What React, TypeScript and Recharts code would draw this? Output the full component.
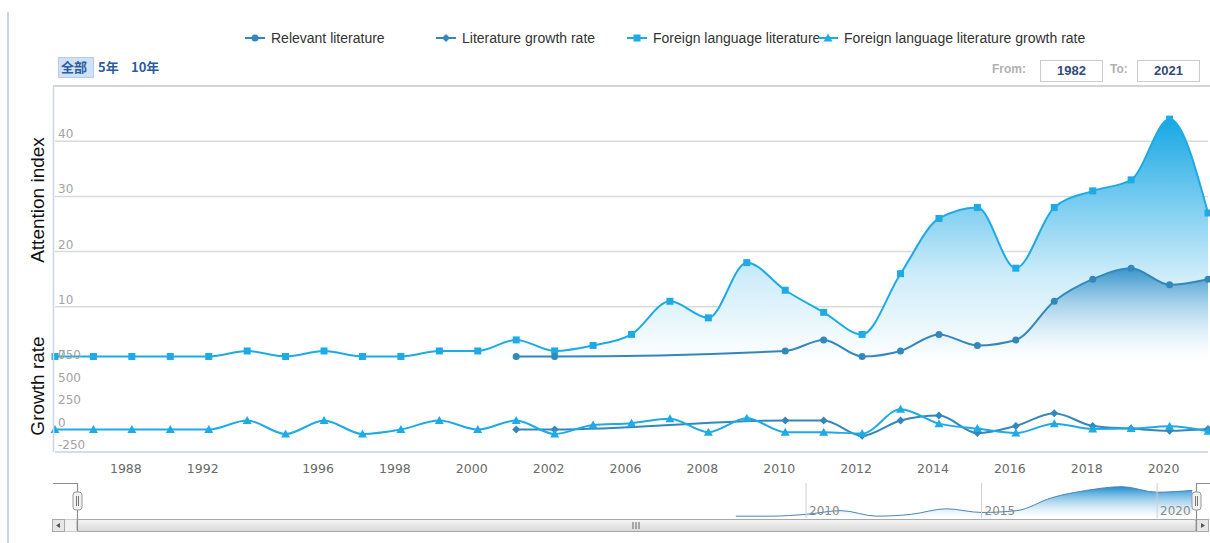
import { ComposedChart, AreaChart, Area, Line, XAxis, YAxis, CartesianGrid, ReferenceLine } from "recharts";

// years that have data (ordinal axis, some years are skipped)
const years = [1982, 1987, 1988, 1991, 1992, 1993, 1995, 1996, 1997, 1998, 1999, 2000, 2001, 2002, 2005,
  2006, 2007, 2008, 2009, 2010, 2011, 2012, 2013, 2014, 2015, 2016, 2017, 2018, 2019, 2020, 2021];

const relevantLit = [null, null, null, null, null, null, null, null, null, null, null, null, 1, 1,
  null, null, null, null, null, 2, 4, 1, 2, 5, 3, 4, 11, 15, 17, 14, 15];
const foreignLit = [1, 1, 1, 1, 1, 2, 1, 2, 1, 1, 2, 2, 4, 2, 3, 5, 11, 8, 18, 13, 9, 5, 16, 26, 28, 17, 28, 31, 33, 44, 27];
const litGrowth = [null, null, null, null, null, null, null, null, null, null, null, null, 0, 0,
  null, null, null, null, null, 100, 100, -70, 100, 155, -40, 40, 180, 40, 10, -15, 5];
const foreignGrowth = [0, 0, 0, 0, 0, 100, -50, 100, -50, 0, 100, 0, 100, -50, 50, 70, 120, -30, 125, -30,
  -30, -45, 225, 65, 10, -40, 65, 5, 10, 35, -20];

const xLabelYears = [1988, 1992, 1996, 1998, 2000, 2002, 2006, 2008, 2010, 2012, 2014, 2016, 2018, 2020];
const upperTicks = [0, 10, 20, 30, 40, 50];
const lowerTicks = [-250, 0, 250, 500, 750];

const seriesNames = ["Relevant literature", "Literature growth rate", "Foreign language literature", "Foreign language literature growth rate"];

// navigator
const navYears = [2008, 2009, 2010, 2011, 2012, 2013, 2014, 2015, 2016, 2017, 2018, 2019, 2020, 2021];
const navValues = [1, 1, 2, 4, 1, 2, 5, 3, 4, 11, 15, 17, 14, 15];
const navTicks = [2010, 2015, 2020];

const rows = years.map((y, i) => ({
  year: String(y),
  relevant: relevantLit[i],
  foreign: foreignLit[i],
  litGrowth: litGrowth[i],
  foreignGrowth: foreignGrowth[i],
}));
const navData = navYears.map((y, i) => ({ year: y, value: navValues[i] }));

const W = 1210;
const PLOT_LEFT = 55;
const PLOT_RIGHT = 1208;
const LIGHT = "#1eabe5";
const DARK = "#3387bb";
const TICK_FONT = '"DejaVu Sans", Verdana, sans-serif';

function shapeAt(shape: string, cx: number, cy: number, color: string, key: any) {
  if (shape === "circle") return <circle key={key} cx={cx} cy={cy} r={3.5} fill={color} />;
  if (shape === "square") return <rect key={key} x={cx - 3.5} y={cy - 3.5} width={7} height={7} fill={color} />;
  if (shape === "diamond")
    return <path key={key} d={`M${cx},${cy - 4} L${cx + 4},${cy} L${cx},${cy + 4} L${cx - 4},${cy} Z`} fill={color} />;
  return <path key={key} d={`M${cx},${cy - 4.5} L${cx + 4.5},${cy + 3.5} L${cx - 4.5},${cy + 3.5} Z`} fill={color} />;
}

const dotFn = (shape: string, color: string) => (p: any) => {
  if (p.cy == null || Number.isNaN(p.cy) || p.cx == null) return <g key={`e-${shape}-${p.index}`} />;
  return shapeAt(shape, p.cx, p.cy, color, `d-${shape}-${p.index}`);
};

const yTick = (skip: number | null) => (p: any) => {
  const v = p.payload.value;
  if (skip !== null && v === skip) return <g />;
  return (
    <text x={PLOT_LEFT + 3} y={p.y - 3} fontSize={12} fill="#a3a3a3" fontFamily={TICK_FONT} textAnchor="start">
      {v}
    </text>
  );
};

const xTick = (p: any) => {
  const v = Number(p.payload.value);
  if (!xLabelYears.includes(v)) return <g />;
  return (
    <text x={p.x - 6} y={p.y + 15} fontSize={12.5} fill="#6a6a6a" fontFamily={TICK_FONT} textAnchor="middle">
      {v}
    </text>
  );
};

const legendShapes = ["circle", "diamond", "square", "triangle"];
const legendColors = [DARK, DARK, LIGHT, LIGHT];

function App() {
  return (
    <div
      style={{
        position: "absolute",
        left: 0,
        top: 0,
        width: W,
        height: 543,
        background: "#fff",
        overflow: "hidden",
        fontFamily: '"Liberation Sans", Arial, sans-serif',
      }}
    >
      {/* legend */}
      {seriesNames.map((name, k) => (
        <div
          key={name}
          style={{ position: "absolute", left: 245 + 191 * k, top: 29, height: 18, display: "flex", alignItems: "center" }}
        >
          <svg width={20} height={12}>
            <line x1={0} y1={6} x2={20} y2={6} stroke={legendColors[k]} strokeWidth={2} />
            {shapeAt(legendShapes[k], 10, 6, legendColors[k], "m")}
          </svg>
          <span style={{ marginLeft: 6, fontSize: 14, color: "#333", whiteSpace: "nowrap" }}>{name}</span>
        </div>
      ))}

      {/* range selector */}
      <div style={{ position: "absolute", left: 58, top: 57, width: 34, height: 19, background: "#cfe1f4", border: "1px solid #b5cde8" }} />
      <div style={{ position: "absolute", left: 61, top: 58, fontSize: 13, fontWeight: 700, color: "#2d5c9f", fontFamily: '"Noto Sans CJK SC", sans-serif', lineHeight: "18px" }}>全部</div>
      <div style={{ position: "absolute", left: 98, top: 58, fontSize: 13, fontWeight: 700, color: "#2d5c9f", fontFamily: '"Noto Sans CJK SC", sans-serif', lineHeight: "18px" }}>5年</div>
      <div style={{ position: "absolute", left: 131, top: 58, fontSize: 13, fontWeight: 700, color: "#2d5c9f", fontFamily: '"Noto Sans CJK SC", sans-serif', lineHeight: "18px" }}>10年</div>

      {/* from / to */}
      <div style={{ position: "absolute", left: 992, top: 62, fontSize: 12, fontWeight: 700, color: "#b0b0b0" }}>From:</div>
      <div style={{ position: "absolute", left: 1040, top: 60, width: 61, height: 20, border: "1px solid #cccccc", textAlign: "center", fontSize: 13, fontWeight: 700, color: "#334a78", lineHeight: "20px" }}>1982</div>
      <div style={{ position: "absolute", left: 1110, top: 62, fontSize: 12, fontWeight: 700, color: "#b0b0b0" }}>To:</div>
      <div style={{ position: "absolute", left: 1137, top: 60, width: 61, height: 20, border: "1px solid #cccccc", textAlign: "center", fontSize: 13, fontWeight: 700, color: "#334a78", lineHeight: "20px" }}>2021</div>

      {/* upper pane: attention index */}
      <div style={{ position: "absolute", left: 0, top: 0 }}>
        <ComposedChart width={W} height={362} data={rows} margin={{ top: 86, right: W - PLOT_RIGHT, bottom: 0, left: PLOT_LEFT }}>
          <defs>
            <linearGradient id="gradForeign" x1="0" y1="0" x2="0" y2="1">
              <stop offset="0%" stopColor="#16a8e4" stopOpacity={1} />
              <stop offset="35%" stopColor="#7ccdf0" stopOpacity={1} />
              <stop offset="65%" stopColor="#cfedfa" stopOpacity={1} />
              <stop offset="100%" stopColor="#ffffff" stopOpacity={1} />
            </linearGradient>
            <linearGradient id="gradRelevant" x1="0" y1="0" x2="0" y2="1">
              <stop offset="0%" stopColor="#2f8fc8" stopOpacity={0.95} />
              <stop offset="100%" stopColor="#ffffff" stopOpacity={0} />
            </linearGradient>
          </defs>
          <CartesianGrid vertical={false} stroke="#dadada" strokeWidth={1.5} />
          <XAxis dataKey="year" hide scale="point" padding={{ left: 0, right: 0 }} />
          <YAxis domain={[0, 50]} ticks={upperTicks} interval={0} mirror axisLine={false} tickLine={false} tick={yTick(50)} />
          <Area
            type="monotone"
            dataKey="foreign"
            stroke={LIGHT}
            strokeWidth={2}
            fill="url(#gradForeign)"
            fillOpacity={1}
            dot={dotFn("square", LIGHT)}
            activeDot={false}
            isAnimationActive={false}
          />
          <Area
            type="monotone"
            dataKey="relevant"
            stroke={DARK}
            strokeWidth={2}
            fill="url(#gradRelevant)"
            fillOpacity={1}
            connectNulls
            dot={dotFn("circle", DARK)}
            activeDot={false}
            isAnimationActive={false}
          />
        </ComposedChart>
      </div>

      {/* lower pane: growth rate */}
      <div style={{ position: "absolute", left: 0, top: 340 }}>
        <ComposedChart width={W} height={140} data={rows} margin={{ top: 22, right: W - PLOT_RIGHT, bottom: 0, left: PLOT_LEFT }}>
          <XAxis
            dataKey="year"
            scale="point"
            padding={{ left: 0, right: 0 }}
            interval={0}
            height={28}
            tickLine={false}
            tickMargin={0}
            axisLine={{ stroke: "#c5d3e3", strokeWidth: 1.5 }}
            tick={xTick}
          />
          <YAxis domain={[-250, 750]} ticks={lowerTicks} interval={0} mirror axisLine={false} tickLine={false} tick={yTick(null)} />
          <Line
            type="monotone"
            dataKey="litGrowth"
            stroke={DARK}
            strokeWidth={2}
            connectNulls
            dot={dotFn("diamond", DARK)}
            activeDot={false}
            isAnimationActive={false}
          />
          <Line
            type="monotone"
            dataKey="foreignGrowth"
            stroke={LIGHT}
            strokeWidth={2}
            dot={dotFn("triangle", LIGHT)}
            activeDot={false}
            isAnimationActive={false}
          />
        </ComposedChart>
      </div>

      {/* navigator */}
      <div style={{ position: "absolute", left: 0, top: 483 }}>
        <AreaChart width={W} height={35} data={navData} margin={{ top: 0, right: W - PLOT_RIGHT, bottom: 0, left: 53 }}>
          <defs>
            <linearGradient id="gradNav" x1="0" y1="0" x2="0" y2="1">
              <stop offset="0%" stopColor="#1c8dd0" stopOpacity={1} />
              <stop offset="100%" stopColor="#ffffff" stopOpacity={0.3} />
            </linearGradient>
          </defs>
          <XAxis type="number" dataKey="year" domain={[1988.55, 2021.45]} hide allowDataOverflow />
          <YAxis domain={[0, 19]} hide allowDataOverflow />
          {navTicks.map((t) => (
            <ReferenceLine
              key={t}
              x={t}
              stroke="#cfcfcf"
              label={{ value: String(t), position: "insideBottomLeft", offset: 3, fill: "#8a8a8a", fontSize: 12, fontFamily: TICK_FONT }}
            />
          ))}
          <Area
            type="monotone"
            dataKey="value"
            stroke="#4a86b8"
            strokeWidth={1}
            fill="url(#gradNav)"
            fillOpacity={1}
            dot={false}
            activeDot={false}
            isAnimationActive={false}
          />
        </AreaChart>
      </div>

      {/* frame, titles, navigator handles and scrollbar */}
      <svg width={W} height={543} style={{ position: "absolute", left: 0, top: 0, pointerEvents: "none" }}>
        <defs>
          <linearGradient id="gradBar" x1="0" y1="0" x2="0" y2="1">
            <stop offset="0%" stopColor="#f6f6f6" />
            <stop offset="100%" stopColor="#d9d9d9" />
          </linearGradient>
        </defs>
        <line x1={8} y1={12} x2={8} y2={543} stroke="#c6d5ea" strokeWidth={2} />
        <line x1={53} y1={86} x2={W} y2={86} stroke="#d4d4d4" strokeWidth={2} />
        <line x1={53.5} y1={86} x2={53.5} y2={452} stroke="#c9d6e4" strokeWidth={1.5} />

        <text transform="rotate(-90 37 200)" x={37} y={200} textAnchor="middle" dominantBaseline="central" fontSize={19} fill="#111" fontFamily='"Liberation Sans", Arial, sans-serif'>
          Attention index
        </text>
        <text transform="rotate(-90 37 386)" x={37} y={386} textAnchor="middle" dominantBaseline="central" fontSize={19} fill="#111" fontFamily='"Liberation Sans", Arial, sans-serif'>
          Growth rate
        </text>

        {/* scrollbar */}
        <rect x={52.5} y={519.5} width={1155} height={12} fill="#f2f2f2" stroke="#cccccc" />
        <rect x={77} y={519.5} width={1119} height={12} rx={2} fill="url(#gradBar)" stroke="#a8a8a8" />
        <line x1={633} y1={522} x2={633} y2={529} stroke="#666" />
        <line x1={636} y1={522} x2={636} y2={529} stroke="#666" />
        <line x1={639} y1={522} x2={639} y2={529} stroke="#666" />
        <rect x={52.5} y={519.5} width={12} height={12} fill="#e6e6e6" stroke="#a8a8a8" />
        <path d="M60,523 L56,525.5 L60,528 Z" fill="#555" />
        <rect x={1196.5} y={519.5} width={12} height={12} fill="#e6e6e6" stroke="#a8a8a8" />
        <path d="M1201,523 L1205,525.5 L1201,528 Z" fill="#555" />

        {/* navigator outline */}
        <path d="M53,483.5 H77.5 V531" fill="none" stroke="#8f8f8f" strokeWidth={1.2} />
        <path d="M1196.5,531 V483.5 H1210" fill="none" stroke="#8f8f8f" strokeWidth={1.2} />

        {/* handles */}
        <rect x={73} y={492} width={9} height={18} rx={3} fill="#f2f2f2" stroke="#999" />
        <line x1={76.5} y1={496} x2={76.5} y2={506} stroke="#777" />
        <line x1={78.5} y1={496} x2={78.5} y2={506} stroke="#777" />
        <rect x={1192} y={492} width={9} height={18} rx={3} fill="#f2f2f2" stroke="#999" />
        <line x1={1195.5} y1={496} x2={1195.5} y2={506} stroke="#777" />
        <line x1={1197.5} y1={496} x2={1197.5} y2={506} stroke="#777" />
      </svg>
    </div>
  );
}

export default App;
